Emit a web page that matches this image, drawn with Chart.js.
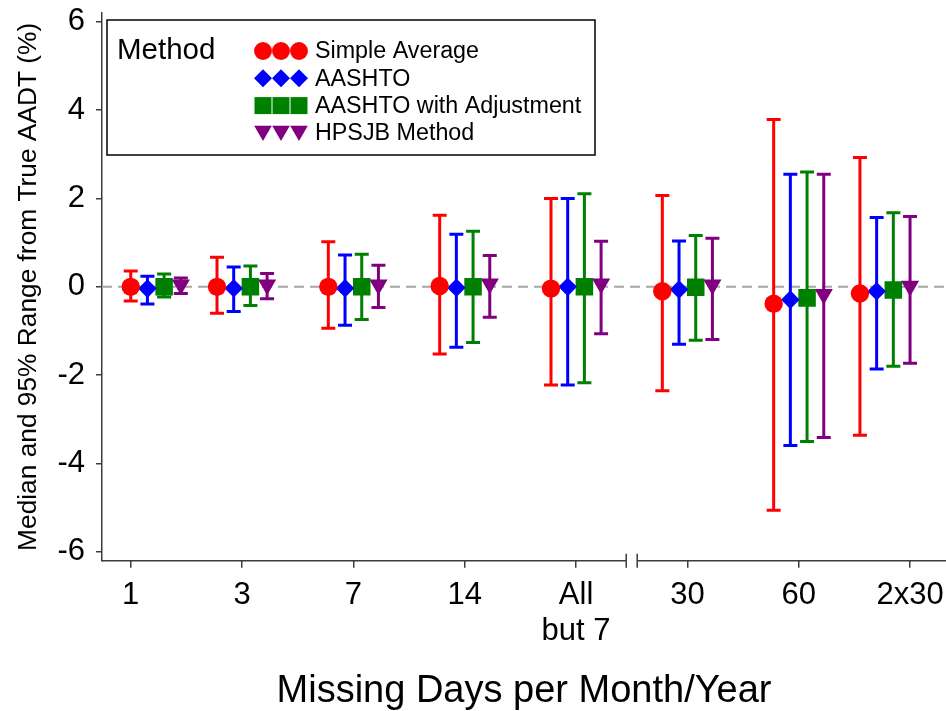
<!DOCTYPE html>
<html>
<head>
<meta charset="utf-8">
<title>Median and 95% Range from True AADT</title>
<script src="https://cdn.jsdelivr.net/npm/chart.js@4.4.1/dist/chart.umd.min.js"></script>
<style>
  html, body { margin: 0; padding: 0; background: #fff; overflow: hidden; }
  #wrap { width: 946px; height: 711px; }
  #chart { display: block; }
</style>
</head>
<body>
<div id="wrap"><canvas id="chart" width="946" height="711"></canvas></div>
<script>
// Categories (missing days per month / year)
const categories = ['1', '3', '7', '14', ['All', 'but 7'], '30', '60', '2x30'];
const yTicks = [-6, -4, -2, 0, 2, 4, 6];

// Simple Average
const simpleMedian = [0.00, 0.00, 0.00, 0.02, -0.04, -0.10, -0.38, -0.15];
const simpleLow    = [-0.32, -0.60, -0.94, -1.52, -2.22, -2.35, -5.06, -3.36];
const simpleHigh   = [0.36, 0.67, 1.02, 1.62, 2.00, 2.07, 3.79, 2.93];

// AASHTO
const aashtoMedian = [-0.04, -0.03, -0.03, -0.02, 0.00, -0.06, -0.29, -0.10];
const aashtoLow    = [-0.39, -0.56, -0.87, -1.37, -2.22, -1.30, -3.59, -1.86];
const aashtoHigh   = [0.24, 0.45, 0.72, 1.19, 2.00, 1.04, 2.55, 1.57];

// AASHTO with Adjustment
const adjMedian = [0.00, 0.00, 0.00, 0.00, 0.00, -0.01, -0.25, -0.07];
const adjLow    = [-0.23, -0.42, -0.74, -1.26, -2.17, -1.21, -3.50, -1.80];
const adjHigh   = [0.29, 0.47, 0.74, 1.26, 2.11, 1.16, 2.60, 1.68];

// HPSJB Method
const hpsjbMedian = [0.05, 0.05, 0.05, 0.07, 0.07, 0.05, -0.17, 0.02];
const hpsjbLow    = [-0.15, -0.27, -0.47, -0.69, -1.06, -1.19, -3.41, -1.73];
const hpsjbHigh   = [0.20, 0.30, 0.49, 0.71, 1.03, 1.10, 2.55, 1.59];

const FONT = "'Liberation Sans', Arial, sans-serif";
const AXIS_COLOR = '#3c3c3c';
const BREAK_AFTER = 4;   // axis break between "All but 7" and "30"
const SPREAD = 0.15;     // distance between methods inside a group

// x position of a method inside its group (first/last group are pushed inward)
function xPos(i, s) {
  const last = categories.length - 1;
  let x = i + (s - 1.5) * SPREAD;
  if (i === 0) x += 1.5 * SPREAD;
  if (i === last) x -= 1.5 * SPREAD;
  return x;
}

function serie(label, median, low, high, color, style, radius, rotation, s) {
  return {
    label: label,
    data: median.map((m, i) => ({ x: xPos(i, s), y: m })),
    errLow: low,
    errHigh: high,
    backgroundColor: color,
    borderColor: color,
    borderWidth: 0,
    pointStyle: style,
    pointRadius: radius,
    pointHoverRadius: radius,
    rotation: rotation,
    showLine: false
  };
}

// Error bars and zero line, drawn under the markers
const errorBars = {
  id: 'errorBars',
  beforeDatasetsDraw(chart) {
    const { ctx, chartArea, scales: { y } } = chart;
    const y0 = y.getPixelForValue(0);
    ctx.save();
    ctx.strokeStyle = '#a6a6a6';
    ctx.lineWidth = 2;
    ctx.setLineDash([10, 6]);
    ctx.beginPath();
    ctx.moveTo(chartArea.left, y0);
    ctx.lineTo(chartArea.right, y0);
    ctx.stroke();
    ctx.setLineDash([]);
    ctx.lineWidth = 3;
    chart.data.datasets.forEach((ds, di) => {
      const meta = chart.getDatasetMeta(di);
      ctx.strokeStyle = ds.borderColor;
      meta.data.forEach((pt, j) => {
        const yl = y.getPixelForValue(ds.errLow[j]);
        const yh = y.getPixelForValue(ds.errHigh[j]);
        ctx.beginPath();
        ctx.moveTo(pt.x, yl); ctx.lineTo(pt.x, yh);
        ctx.moveTo(pt.x - 7, yl); ctx.lineTo(pt.x + 7, yl);
        ctx.moveTo(pt.x - 7, yh); ctx.lineTo(pt.x + 7, yh);
        ctx.stroke();
      });
    });
    ctx.restore();
  }
};

// Bottom axis line with a break
const brokenAxis = {
  id: 'brokenAxis',
  afterDraw(chart) {
    const { ctx, chartArea, scales: { x } } = chart;
    const yb = chartArea.bottom;
    const mid = x.getPixelForValue(BREAK_AFTER + 0.5);
    ctx.save();
    ctx.strokeStyle = AXIS_COLOR;
    ctx.lineWidth = 1.5;
    ctx.beginPath();
    ctx.moveTo(chartArea.left, yb); ctx.lineTo(mid - 5.5, yb);
    ctx.moveTo(mid + 5.5, yb); ctx.lineTo(chartArea.right, yb);
    ctx.moveTo(mid - 5.5, yb - 7); ctx.lineTo(mid - 5.5, yb + 7);
    ctx.moveTo(mid + 5.5, yb - 7); ctx.lineTo(mid + 5.5, yb + 7);
    ctx.stroke();
    ctx.restore();
  }
};

function drawMarker(ctx, style, x, y, r) {
  ctx.beginPath();
  if (style === 'circle') {
    ctx.arc(x, y, r, 0, Math.PI * 2);
  } else if (style === 'rectRot') {
    ctx.moveTo(x, y - r); ctx.lineTo(x + r, y); ctx.lineTo(x, y + r); ctx.lineTo(x - r, y);
  } else if (style === 'rect') {
    const h = r * Math.SQRT1_2;
    ctx.rect(x - h, y - h, 2 * h, 2 * h);
  } else {
    const w = r * Math.sin(Math.PI / 3);
    ctx.moveTo(x - w, y - r / 2); ctx.lineTo(x + w, y - r / 2); ctx.lineTo(x, y + r);
  }
  ctx.closePath();
  ctx.fill();
}

// Legend box: "Method" title and three markers per entry
const methodLegend = {
  id: 'methodLegend',
  afterDraw(chart) {
    const { ctx } = chart;
    ctx.save();
    ctx.fillStyle = '#fff';
    ctx.fillRect(107, 20, 488, 135);
    ctx.strokeStyle = '#000';
    ctx.lineWidth = 1.5;
    ctx.strokeRect(107, 20, 488, 135);
    ctx.fillStyle = '#000';
    ctx.textBaseline = 'middle';
    ctx.font = '29.5px ' + FONT;
    ctx.fillText('Method', 117, 51);
    ctx.font = '23.3px ' + FONT;
    chart.data.datasets.forEach((ds, i) => {
      const yy = 51 + i * 27.3;
      ctx.fillStyle = ds.backgroundColor;
      [263, 281, 299].forEach(mx => drawMarker(ctx, ds.pointStyle, mx, ds.pointStyle === 'triangle' ? yy - 2 : yy, ds.pointRadius * 0.97));
      ctx.fillStyle = '#000';
      ctx.fillText(ds.label, 315, yy + 1);
    });
    ctx.restore();
  }
};

new Chart(document.getElementById('chart'), {
  type: 'scatter',
  data: {
    datasets: [
      serie('Simple Average', simpleMedian, simpleLow, simpleHigh, '#ff0000', 'circle', 9.2, 0, 0),
      serie('AASHTO', aashtoMedian, aashtoLow, aashtoHigh, '#0000ff', 'rectRot', 9.3, 0, 1),
      serie('AASHTO with Adjustment', adjMedian, adjLow, adjHigh, '#008000', 'rect', 12.4, 0, 2),
      serie('HPSJB Method', hpsjbMedian, hpsjbLow, hpsjbHigh, '#800080', 'triangle', 10.5, 180, 3)
    ]
  },
  options: {
    responsive: false,
    animation: false,
    layout: { autoPadding: false, padding: { top: 13, right: 0, bottom: 0, left: 0 } },
    plugins: {
      legend: { display: false },
      tooltip: { enabled: false }
    },
    scales: {
      x: {
        type: 'linear',
        min: -0.258,
        max: 7.323,
        afterBuildTicks: (axis) => { axis.ticks = categories.map((c, i) => ({ value: i })); },
        afterFit: (scale) => { scale.height = 150.3; scale.paddingLeft = 0; scale.paddingRight = 0; },
        ticks: {
          autoSkip: false,
          maxRotation: 0,
          padding: 9,
          color: '#000',
          font: { family: FONT, size: 31, lineHeight: 1.18 },
          callback: (v) => categories[v]
        },
        grid: { display: true, drawOnChartArea: false, drawTicks: true, tickLength: 7, color: AXIS_COLOR, lineWidth: 1.5 },
        border: { display: false },
        title: {
          display: true,
          text: 'Missing Days per Month/Year',
          color: '#000',
          font: { family: FONT, size: 38, lineHeight: 1 },
          padding: { top: 0, bottom: 0 }
        }
      },
      y: {
        min: -6.2,
        max: 6.2,
        afterBuildTicks: (axis) => { axis.ticks = yTicks.map(v => ({ value: v })); },
        afterFit: (scale) => { scale.width = 102; scale.paddingTop = 0; scale.paddingBottom = 0; },
        ticks: {
          padding: 11,
          color: '#000',
          font: { family: FONT, size: 31 }
        },
        grid: { display: true, drawOnChartArea: false, drawTicks: true, tickLength: 6, color: AXIS_COLOR, lineWidth: 1.5 },
        border: { display: true, color: AXIS_COLOR, width: 1.5 },
        title: {
          display: true,
          text: 'Median and 95% Range from True AADT (%)',
          color: '#000',
          font: { family: FONT, size: 26.3 },
          padding: { top: 13, bottom: 0 }
        }
      }
    }
  },
  plugins: [errorBars, brokenAxis, methodLegend]
});
</script>
</body>
</html>
